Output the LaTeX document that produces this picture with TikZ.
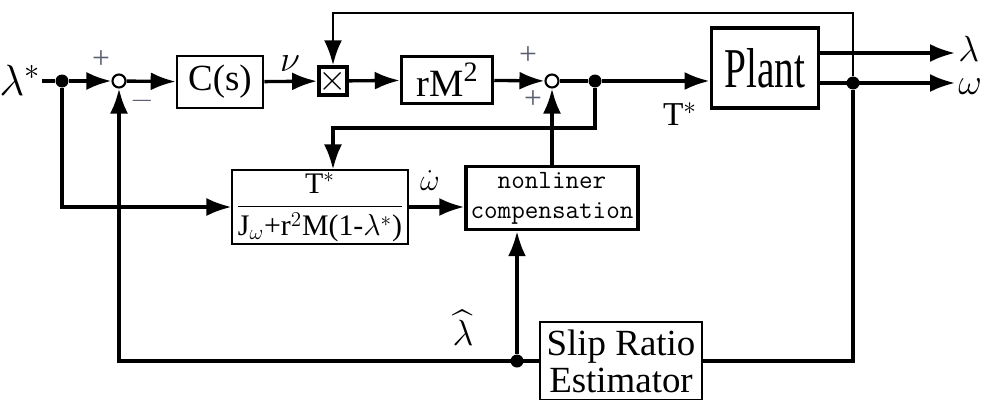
\documentclass[tikz,border=0pt]{standalone}
\usepackage{amsmath}
\usepackage{fontspec}
\setmainfont{Liberation Serif}
\usetikzlibrary{arrows.meta}
\definecolor{signgray}{HTML}{5A6070}

\begin{document}
\begin{tikzpicture}[x=0.02cm,y=-0.02cm,
    flow/.style={line width=1.9pt,-{Latex[length=5mm,width=3.6mm]}},
    wire/.style={line width=1.9pt},
    blk/.style={draw,line width=1.5pt,inner sep=0pt,align=center},
    thinblk/.style={draw,line width=0.6pt,inner sep=0pt,align=center},
    sumpt/.style={circle,draw,line width=1.2pt,fill=white,minimum size=2.6mm,inner sep=0pt},
    dot/.style={circle,fill,minimum size=2.6mm,inner sep=0pt},
    sign/.style={text=signgray,inner sep=0pt,font=\fontsize{18}{18}\selectfont},
    lbl/.style={inner sep=0pt,font=\fontsize{21}{21}\selectfont}]
  \useasboundingbox (0,0) rectangle (990,399);

  % forward path
  \node[lbl,font=\fontsize{24}{24}\selectfont] (lstar) at (20,80) {$\lambda^{*}$};
  \coordinate (in) at (42,81);
  \node[dot] (d1) at (62,81) {};
  \node[sumpt] (sum1) at (119,81) {};
  \node[blk,minimum width=1.72cm,minimum height=1.04cm,font=\fontsize{21}{21}\selectfont] (cs) at (220,82) {C(s)};
  \node[blk,line width=2pt,minimum size=0.56cm,font=\fontsize{20}{20}\selectfont] (mult) at (333,81) {$\times$};
  \node[blk,line width=2pt,minimum width=1.82cm,minimum height=0.94cm,font=\fontsize{22}{22}\selectfont] (rm) at (447,80) {rM\raisebox{0.85ex}{\fontsize{16}{16}\selectfont 2}};
  \node[sumpt] (sum2) at (552,81) {};
  \node[dot] (d2) at (595,81) {};
  \node[blk,line width=2.2pt,minimum width=2.14cm,minimum height=1.6cm] (plant) at (765,68) {\scalebox{0.7}[1]{\fontsize{32}{32}\selectfont Plant}};
  \coordinate (lamout) at (955,53);
  \coordinate (omout) at (955,83);
  \node[dot] (d3) at (853,83) {};
  \node[lbl,anchor=west,font=\fontsize{20}{20}\selectfont] (lam) at (958,49) {$\lambda$};
  \node[lbl,anchor=west,font=\fontsize{20}{20}\selectfont] (om) at (958,87) {$\omega$};

  % compensation path
  \node[thinblk,minimum width=3.52cm,minimum height=1.48cm,font=\fontsize{17}{17}\selectfont] (frac) at (320,207)
    {$\dfrac{\text{T}^{*}}{\text{J}_{\omega}\text{+r}^{2}\text{M(1-}\lambda^{*}\text{)}}$};
  \node[blk,line width=2pt,minimum width=3.44cm,minimum height=1.26cm,font=\ttfamily\fontsize{15}{17}\selectfont] (nl) at (552,198)
    {nonliner\\compensation};
  \node[thinblk,minimum width=3.24cm,minimum height=1.56cm,font=\fontsize{21}{21}\selectfont] (est) at (621,361)
    {Slip Ratio\\Estimator};
  \node[dot] (d4) at (517,361) {};
  \coordinate (topr) at (853,13);
  \coordinate (turn) at (595,128);

  % signs and signal names
  \node[sign] (p1) at (101,60) {+};
  \node[sign] (m1) at (142,101) {$-$};
  \node[sign] (p2) at (528,56) {+};
  \node[sign] (p3) at (533,100) {+};
  \node[lbl] (nu) at (290,64) {$\nu$};
  \node[lbl,font=\fontsize{18}{18}\selectfont] (wdot) at (430,181) {$\dot{\omega}$};
  \node[lbl,font=\fontsize{19}{19}\selectfont] (tstar) at (680,114) {T$^{*}$};
  \node[lbl,font=\fontsize{20}{20}\selectfont] (lhat) at (463,328) {$\widehat{\lambda}$};

  % connectors
  \draw[wire] (in) -- (d1);
  \draw[flow] (d1) -- (sum1);
  \draw[flow] (sum1) -- (cs);
  \draw[flow] (cs) -- (mult);
  \draw[flow] (mult) -- (rm);
  \draw[flow] (rm) -- (sum2);
  \draw[wire] (sum2) -- (d2);
  \draw[flow] (d2) -- (d2 -| plant.west);
  \draw[flow] (plant.east |- lamout) -- (lamout);
  \draw[flow] (plant.east |- omout) -- (omout);
  \draw[flow,line width=1.6pt] (d3) -- (topr) -| (mult.north);
  \draw[wire] (d3) |- (est.east);
  \draw[flow] (est.west) -| (sum1.south);
  \draw[flow] (d4) -- (d4 |- nl.south);
  \draw[flow] (nl.north) -- (sum2.south);
  \draw[flow] (d1) |- (frac.west);
  \draw[flow] (frac.east) -- (frac.east -| nl.west);
  \draw[flow] (d2) -- (turn) -| ([xshift=0.26cm]frac.north);
\end{tikzpicture}
\end{document}
